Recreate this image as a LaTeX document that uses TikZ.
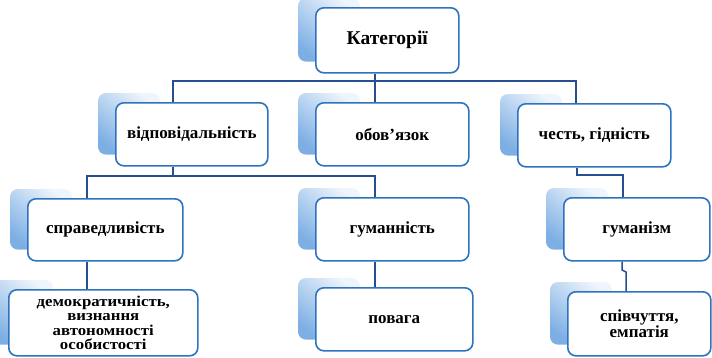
\documentclass[tikz,border=0pt]{standalone}
\usepackage{fontspec}
\setmainfont{Liberation Serif}
\newfontfamily\demofont[FakeStretch=1.12]{Liberation Serif}
\usetikzlibrary{backgrounds,calc}
\definecolor{boxblue}{RGB}{45,115,190}
\definecolor{linecol}{RGB}{38,78,145}
\definecolor{shadeblue}{RGB}{125,175,228}
\definecolor{shadelight}{RGB}{238,245,252}
\begin{document}
\begin{tikzpicture}[x=1pt,y=-1pt,
  box/.style={draw=boxblue, line width=1.6pt, rounded corners=8pt, fill=white,
    anchor=north west, inner sep=2pt, align=center,
    font=\bfseries\fontsize{17}{14}\selectfont},
  conn/.style={draw=linecol, line width=1.5pt},
  shadowbox/.style={top color=shadelight, bottom color=shadeblue, shading angle=-40, rounded corners=8pt, draw=none}]
\useasboundingbox (0,0) rectangle (712,357);
% boxes
\node[box, minimum width=143pt, minimum height=65pt, font=\bfseries\fontsize{19.5}{16}\selectfont] (cat) at (315,7) {Категорії};
\node[box, minimum width=152pt, minimum height=63pt] (vid) at (115,102) {відповідальність};
\node[box, minimum width=153pt, minimum height=63pt] (obov) at (315,102) {обов’язок};
\node[box, minimum width=153pt, minimum height=63pt] (chest) at (517,103) {честь, гідність};
\node[box, minimum width=155pt, minimum height=62pt] (sprav) at (27,198) {справедливість};
\node[box, minimum width=153pt, minimum height=63pt] (guman) at (315,197) {гуманність};
\node[box, minimum width=146pt, minimum height=63pt] (gumz) at (563,197) {гуманізм};
\node[box, minimum width=189pt, minimum height=66pt, text width=180pt, font=\demofont\bfseries\fontsize{15}{14.5}\selectfont] (demo) at (8,289) {демократичність,\\ визнання\\ автономності\\ особистості};
\node[box, minimum width=157pt, minimum height=63pt] (povaga) at (315,287) {повага};
\node[box, minimum width=143pt, minimum height=64pt, text width=130pt, font=\bfseries\fontsize{17}{15.5}\selectfont] (spiv) at (567,291) {співчуття,\\ емпатія};
% shadows
\begin{scope}[on background layer]
\foreach \n in {cat,vid,obov,chest,sprav,guman,gumz,demo,povaga,spiv}{
  \shade[shadowbox] ($(\n.north west)+(-17,-9)$) rectangle ($(\n.south west)+(45,-12)$);
}
\end{scope}
% connectors
\coordinate (j0) at (375,81);
\coordinate (jl) at (173,81);
\coordinate (jr) at (576,81);
\draw[conn] (cat.south -| j0) -- (j0);
\draw[conn] (jl |- vid.north) -- (jl) -- (jr) -- (jr |- chest.north);
\draw[conn] (j0) -- (j0 |- obov.north);
\coordinate (k0) at (173,176);
\coordinate (kl) at (87,176);
\coordinate (kr) at (375,176);
\draw[conn] (vid.south -| k0) -- (k0);
\draw[conn] (kl |- sprav.north) -- (kl) -- (kr) -- (kr |- guman.north);
\coordinate (m1) at (577,175);
\coordinate (m2) at (623,175);
\draw[conn] (chest.south -| m1) -- (m1) -- (m2) -- (m2 |- gumz.north);
\draw[conn] (sprav.south -| kl) -- (kl |- demo.north);
\draw[conn] (guman.south -| kr) -- (kr |- povaga.north);
\coordinate (n1) at (622,270);
\coordinate (n2) at (626,272);
\draw[conn] (gumz.south -| n1) -- (n1) -- (n2) -- (n2 |- spiv.north);
\end{tikzpicture}
\end{document}
